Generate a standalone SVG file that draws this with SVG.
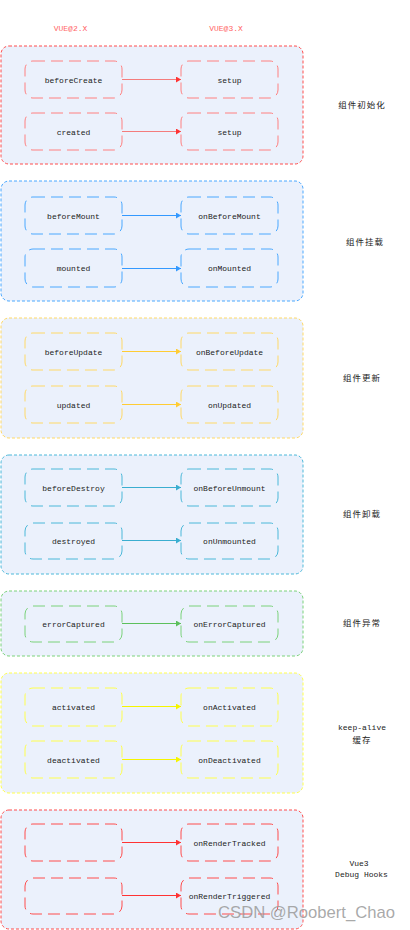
<svg xmlns="http://www.w3.org/2000/svg" width="410" height="930" viewBox="0 0 410 930">
<style>
.grp{fill:#ebf1fc;stroke-width:1;stroke-dasharray:3 2}
.node{fill:none;stroke-width:1;stroke-dasharray:12 6}
.t{font-family:"Liberation Mono","DejaVu Sans Mono",monospace;font-size:8px;fill:#222;text-anchor:middle}
.cn{font-family:"Noto Sans CJK SC","Noto Sans",sans-serif;font-size:8.5px;fill:#222;text-anchor:middle;letter-spacing:1px}
.hd{font-family:"Liberation Mono",monospace;font-size:8px;fill:#ff6666;text-anchor:middle}
.red{stroke:#ff4d4d}.redl{stroke:#ff8080}
.blue{stroke:#4aa8ff}.ora{stroke:#ffd966}.cyan{stroke:#4bb8d9}.grn{stroke:#7bd27b}.yel{stroke:#ffff4d}
.ar{fill:none;stroke-width:1.2}
</style>
<defs>
<marker id="mr" markerWidth="6" markerHeight="6" refX="5" refY="3" orient="auto" markerUnits="userSpaceOnUse"><path d="M0,0 L5,3 L0,6 Z" fill="#ff3333"/></marker>
<marker id="mb" markerWidth="6" markerHeight="6" refX="5" refY="3" orient="auto" markerUnits="userSpaceOnUse"><path d="M0,0 L5,3 L0,6 Z" fill="#3399ff"/></marker>
<marker id="mo" markerWidth="6" markerHeight="6" refX="5" refY="3" orient="auto" markerUnits="userSpaceOnUse"><path d="M0,0 L5,3 L0,6 Z" fill="#ffcc33"/></marker>
<marker id="mc" markerWidth="6" markerHeight="6" refX="5" refY="3" orient="auto" markerUnits="userSpaceOnUse"><path d="M0,0 L5,3 L0,6 Z" fill="#3aaed0"/></marker>
<marker id="mg" markerWidth="6" markerHeight="6" refX="5" refY="3" orient="auto" markerUnits="userSpaceOnUse"><path d="M0,0 L5,3 L0,6 Z" fill="#5cc05c"/></marker>
<marker id="my" markerWidth="6" markerHeight="6" refX="5" refY="3" orient="auto" markerUnits="userSpaceOnUse"><path d="M0,0 L5,3 L0,6 Z" fill="#f5f500"/></marker>
</defs>
<rect width="410" height="930" fill="#ffffff"/>
<g id="headers">
<text class="hd" x="70.5" y="31">VUE@2.X</text>
<text class="hd" x="226" y="31">VUE@3.X</text>
</g>
<g id="group-init">
<rect class="grp red" x="1" y="46" width="302" height="118" rx="8"/>
<text class="cn" x="362" y="108">组件初始化</text>
</g>
<g id="node-beforeCreate"><rect class="node redl" x="25" y="61" width="97" height="37" rx="8"/><text class="t" x="73.5" y="82.5">beforeCreate</text></g>
<g id="node-setup1"><rect class="node redl" x="181" y="61" width="97" height="37" rx="8"/><text class="t" x="229.5" y="82.5">setup</text></g>
<g id="node-created"><rect class="node redl" x="25" y="113" width="97" height="37" rx="8"/><text class="t" x="73.5" y="134.5">created</text></g>
<g id="node-setup2"><rect class="node redl" x="181" y="113" width="97" height="37" rx="8"/><text class="t" x="229.5" y="134.5">setup</text></g>

<g id="group-mount">
<rect class="grp blue" x="1" y="181" width="302" height="120" rx="8"/>
<text class="cn" x="365" y="245">组件挂载</text>
</g>
<g id="node-beforeMount"><rect class="node blue" x="25" y="197" width="97" height="37" rx="8"/><text class="t" x="73.5" y="218.5">beforeMount</text></g>
<g id="node-onBeforeMount"><rect class="node blue" x="181" y="197" width="97" height="37" rx="8"/><text class="t" x="229.5" y="218.5">onBeforeMount</text></g>
<g id="node-mounted"><rect class="node blue" x="25" y="249" width="97" height="38" rx="8"/><text class="t" x="73.5" y="271">mounted</text></g>
<g id="node-onMounted"><rect class="node blue" x="181" y="249" width="97" height="38" rx="8"/><text class="t" x="229.5" y="271">onMounted</text></g>

<g id="group-update">
<rect class="grp ora" x="1" y="318" width="302" height="120" rx="8"/>
<text class="cn" x="362" y="381">组件更新</text>
</g>
<g id="node-beforeUpdate"><rect class="node ora" x="25" y="333" width="97" height="37" rx="8"/><text class="t" x="73.5" y="354.5">beforeUpdate</text></g>
<g id="node-onBeforeUpdate"><rect class="node ora" x="181" y="333" width="97" height="37" rx="8"/><text class="t" x="229.5" y="354.5">onBeforeUpdate</text></g>
<g id="node-updated"><rect class="node ora" x="25" y="386" width="97" height="37" rx="8"/><text class="t" x="73.5" y="407.5">updated</text></g>
<g id="node-onUpdated"><rect class="node ora" x="181" y="386" width="97" height="37" rx="8"/><text class="t" x="229.5" y="407.5">onUpdated</text></g>

<g id="group-unmount">
<rect class="grp cyan" x="1" y="455" width="302" height="119" rx="8"/>
<text class="cn" x="362" y="517">组件卸载</text>
</g>
<g id="node-beforeDestroy"><rect class="node cyan" x="25" y="469" width="97" height="37" rx="8"/><text class="t" x="73.5" y="490.5">beforeDestroy</text></g>
<g id="node-onBeforeUnmount"><rect class="node cyan" x="181" y="469" width="97" height="37" rx="8"/><text class="t" x="229.5" y="490.5">onBeforeUnmount</text></g>
<g id="node-destroyed"><rect class="node cyan" x="25" y="523" width="97" height="36" rx="8"/><text class="t" x="73.5" y="544">destroyed</text></g>
<g id="node-onUnmounted"><rect class="node cyan" x="181" y="523" width="97" height="36" rx="8"/><text class="t" x="229.5" y="544">onUnmounted</text></g>

<g id="group-error">
<rect class="grp grn" x="1" y="591" width="302" height="65" rx="8"/>
<text class="cn" x="362" y="626">组件异常</text>
</g>
<g id="node-errorCaptured"><rect class="node grn" x="25" y="606" width="97" height="36" rx="8"/><text class="t" x="73.5" y="627">errorCaptured</text></g>
<g id="node-onErrorCaptured"><rect class="node grn" x="181" y="606" width="97" height="36" rx="8"/><text class="t" x="229.5" y="627">onErrorCaptured</text></g>

<g id="group-keepalive">
<rect class="grp yel" x="1" y="673" width="302" height="120" rx="8"/>
<text class="t" x="362" y="730">keep-alive</text>
<text class="cn" x="362" y="742.5">缓存</text>
</g>
<g id="node-activated"><rect class="node yel" x="25" y="688" width="97" height="38" rx="8"/><text class="t" x="73.5" y="710">activated</text></g>
<g id="node-onActivated"><rect class="node yel" x="181" y="688" width="97" height="38" rx="8"/><text class="t" x="229.5" y="710">onActivated</text></g>
<g id="node-deactivated"><rect class="node yel" x="25" y="741" width="97" height="37" rx="8"/><text class="t" x="73.5" y="762.5">deactivated</text></g>
<g id="node-onDeactivated"><rect class="node yel" x="181" y="741" width="97" height="37" rx="8"/><text class="t" x="229.5" y="762.5">onDeactivated</text></g>

<g id="group-debug">
<rect class="grp red" x="1" y="810" width="302" height="119" rx="8"/>
<text class="t" x="359" y="866">Vue3</text>
<text class="t" x="361.5" y="877">Debug Hooks</text>
</g>
<g id="node-debug-empty1"><rect class="node red" x="25" y="824" width="97" height="37" rx="8"/></g>
<g id="node-onRenderTracked"><rect class="node red" x="181" y="824" width="97" height="37" rx="8"/><text class="t" x="229.5" y="845.5">onRenderTracked</text></g>
<g id="node-debug-empty2"><rect class="node red" x="25" y="878" width="97" height="36" rx="8"/></g>
<g id="node-onRenderTriggered"><rect class="node red" x="181" y="878" width="97" height="36" rx="8"/><text class="t" x="229.5" y="899">onRenderTriggered</text></g>

<g id="connectors">
<path class="ar" stroke="#f47c7c" d="M122,79.5H181" marker-end="url(#mr)"/>
<path class="ar" stroke="#f47c7c" d="M122,131.5H181" marker-end="url(#mr)"/>
<path class="ar" stroke="#3399ff" d="M122,215.5H181" marker-end="url(#mb)"/>
<path class="ar" stroke="#3399ff" d="M122,268.5H181" marker-end="url(#mb)"/>
<path class="ar" stroke="#ffcc33" d="M122,351.5H181" marker-end="url(#mo)"/>
<path class="ar" stroke="#ffcc33" d="M122,404.5H181" marker-end="url(#mo)"/>
<path class="ar" stroke="#3aaed0" d="M122,487.5H181" marker-end="url(#mc)"/>
<path class="ar" stroke="#3aaed0" d="M122,540.5H181" marker-end="url(#mc)"/>
<path class="ar" stroke="#5cc05c" d="M122,623.5H181" marker-end="url(#mg)"/>
<path class="ar" stroke="#f5f500" d="M122,706.5H181" marker-end="url(#my)"/>
<path class="ar" stroke="#f5f500" d="M122,759.5H181" marker-end="url(#my)"/>
<path class="ar" stroke="#ff3333" d="M122,842.5H181" marker-end="url(#mr)"/>
<path class="ar" stroke="#ff3333" d="M122,895.5H181" marker-end="url(#mr)"/>
</g>
<text x="218" y="918" font-family="Liberation Sans,Arial,sans-serif" font-size="17" fill="#9a9a9a" fill-opacity="0.85" textLength="177" lengthAdjust="spacingAndGlyphs">CSDN @Roobert_Chao</text>
</svg>
